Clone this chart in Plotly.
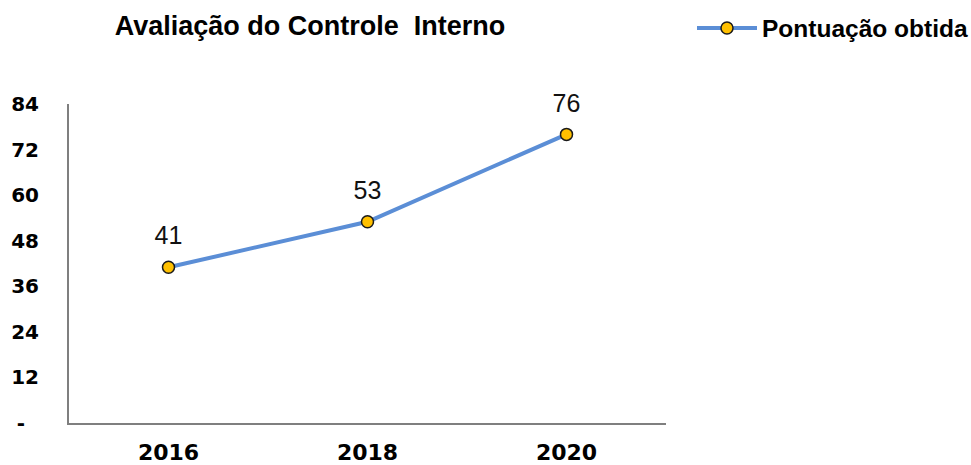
import plotly.graph_objects as go

years = ["2016", "2018", "2020"]
scores = [41, 53, 76]
y_tickvals = [0, 12, 24, 36, 48, 60, 72, 84]
y_ticktext = ["-\u00a0\u00a0", "12", "24", "36", "48", "60", "72", "84"]

fig = go.Figure()
fig.add_trace(go.Scatter(
    x=years, y=scores, mode="lines+markers",
    name="Pontuação obtida",
    line=dict(color="#5B8ED6", width=4),
    marker=dict(color="#FFC000", size=12, line=dict(color="#1a1a1a", width=1.5)),
    cliponaxis=False,
))
# data labels (text-only trace, invisible marker spaces the label above the point)
fig.add_trace(go.Scatter(
    x=years, y=scores, mode="markers+text",
    text=[str(v) for v in scores], textposition="top center",
    textfont=dict(family="Liberation Sans, Arial", size=25, color="#111111"),
    marker=dict(size=25, color="rgba(0,0,0,0)"),
    showlegend=False, hoverinfo="skip", cliponaxis=False,
))

fig.update_layout(
    width=971, height=465,
    margin=dict(l=69, r=305, t=104, b=42, autoexpand=False),
    paper_bgcolor="white", plot_bgcolor="white",
    title=dict(text="Avaliação do Controle  Interno", x=310/971, xanchor="center",
               y=1 - 26/465, yanchor="middle",
               font=dict(family="Liberation Sans, Arial", size=27, color="#000000", weight="bold")),
    showlegend=True,
    legend=dict(orientation="h", xref="container", yref="container",
                x=692/971, xanchor="left", y=1 - 28/465, yanchor="middle",
                font=dict(family="Liberation Sans, Arial", size=24.5, color="#000000", weight="bold"),
                itemwidth=60, bgcolor="rgba(0,0,0,0)"),
    xaxis=dict(type="category", range=[-0.5, 2.5], showline=True, linecolor="#7f7f7f", linewidth=2,
               showgrid=False, ticks="outside", ticklen=9, tickcolor="rgba(0,0,0,0)",
               tickfont=dict(family="DejaVu Sans", size=22, color="#000000", weight="bold"),
               zeroline=False, automargin=False),
    yaxis=dict(range=[0, 84], tickvals=y_tickvals, ticktext=y_ticktext,
               showline=True, linecolor="#7f7f7f", linewidth=2, showgrid=False,
               ticks="outside", ticklen=24, tickcolor="rgba(0,0,0,0)",
               tickfont=dict(family="DejaVu Sans", size=20, color="#000000", weight="bold"),
               zeroline=False, automargin=False),
)

fig.write_html("out.html")
